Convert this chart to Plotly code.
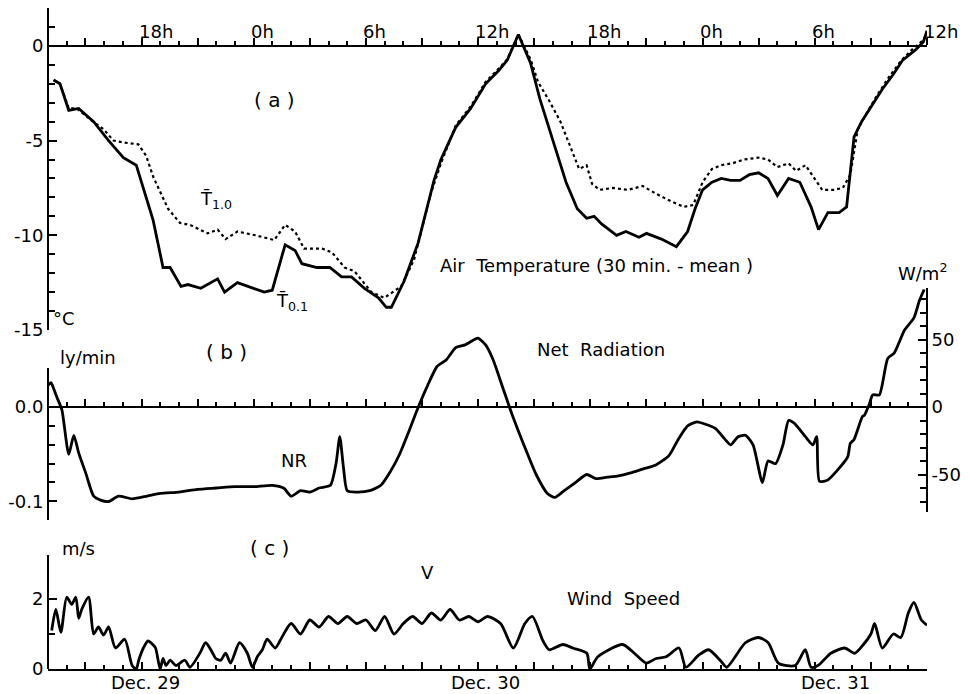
import plotly.graph_objects as go

# ---------------------------------------------------------------
# Time base: hours after 28 Dec 00:00
# ---------------------------------------------------------------
T_START, T_END = 13.0, 60.0

# (a) Air temperature, 30-min means (deg C) at 0.1 m and 1.0 m
t01_hours = [13.3, 13.64, 14.11, 14.64, 15.44, 16.24, 17.03, 17.72, 18.62, 19.15,
             19.53, 20.11, 20.48, 21.17, 22.07, 22.44, 23.13, 24.56, 24.99, 25.68,
             26.21, 26.58, 27.38, 28.07, 28.70, 29.23, 29.92, 30.67, 31.09, 31.36,
             32.05, 32.79, 33.64, 34.01, 34.8, 35.6, 36.4, 37.1, 37.56, 38.15,
             38.8, 39.3, 40.0, 40.7, 41.3, 41.8, 42.2, 42.6, 43.0, 43.4,
             43.9, 44.6, 45.0, 45.8, 46.6, 47.2, 47.6, 48.0, 48.5, 49.0,
             49.5, 50.0, 50.5, 51.0, 51.5, 52.0, 52.6, 53.2, 53.8, 54.2,
             54.7, 55.3, 55.7, 56.1, 56.5, 57.0, 57.6, 58.2, 58.7, 59.4, 59.8, 60.0]
t01_values = [-1.8, -2.0, -3.4, -3.3, -4.0, -5.0, -5.9, -6.3, -9.2, -11.7,
              -11.7, -12.7, -12.6, -12.8, -12.3, -13.0, -12.5, -13.0, -12.9, -10.5,
              -10.8, -11.5, -11.7, -11.7, -12.2, -12.2, -12.8, -13.3, -13.8, -13.8,
              -12.4, -10.4, -7.1, -6.0, -4.3, -3.3, -2.0, -1.3, -0.75, 0.6,
              -0.9, -2.8, -5.0, -7.2, -8.6, -9.1, -9.0, -9.4, -9.7, -10.0,
              -9.8, -10.1, -9.9, -10.2, -10.6, -9.8, -8.6, -7.6, -7.2, -7.0,
              -7.1, -7.1, -6.8, -6.7, -7.0, -7.9, -7.0, -7.2, -8.5, -9.7,
              -8.8, -8.8, -8.5, -4.8, -4.0, -3.2, -2.3, -1.5, -0.75, -0.2, 0.2, 0.8]

t10_hours = [13.3, 13.64, 14.11, 14.54, 15.28, 15.97, 16.50, 17.03, 17.83, 18.25,
             18.62, 19.42, 20.06, 20.59, 21.54, 22.07, 22.50, 23.13, 24.09, 25.10,
             25.68, 26.21, 26.69, 27.65, 28.18, 28.86, 29.39, 30.29, 30.98, 31.88,
             32.57, 33.47, 34.01, 34.8, 35.6, 36.4, 37.1, 37.56, 38.15,
             38.8, 39.2, 39.8, 40.4, 41.0, 41.4, 41.8, 42.1, 42.5, 43.2,
             44.0, 44.8, 45.5, 46.3, 47.0, 47.5, 48.0, 48.5, 49.0, 49.6,
             50.2, 51.0, 51.5, 52.0, 52.6, 53.0, 53.5, 54.0, 54.4, 55.0,
             55.5, 55.9, 56.3, 56.8, 57.4, 58.0, 58.6, 59.2, 59.8, 60.0]
t10_values = [-1.8, -2.0, -3.3, -3.3, -3.9, -4.4, -5.0, -5.1, -5.2, -5.8,
              -6.9, -8.6, -9.35, -9.45, -9.9, -9.7, -10.2, -9.8, -10.0, -10.25,
              -9.45, -9.8, -10.7, -10.7, -10.9, -11.7, -11.9, -13.0, -13.3, -12.7,
              -11.3, -7.8, -6.2, -4.2, -3.2, -1.9, -1.2, -0.7, 0.6,
              -0.7, -1.9, -2.9, -4.0, -5.5, -6.5, -6.3, -7.3, -7.6, -7.5,
              -7.6, -7.4, -7.8, -8.2, -8.5, -8.4, -7.2, -6.5, -6.3, -6.2,
              -6.0, -5.9, -6.0, -6.4, -6.2, -6.6, -6.3, -7.0, -7.6, -7.6,
              -7.5, -6.8, -4.4, -3.5, -2.5, -1.6, -0.8, -0.2, 0.3, 0.7]

# (b) Net radiation (W/m2)
nr_hours = [13.0, 13.16, 13.32, 13.48, 13.74, 14.11, 14.38, 14.64, 15.02, 15.44,
            15.81, 16.24, 16.77, 17.5, 18.3, 19.0, 20.0, 21.0, 22.0, 23.0,
            24.0, 25.0, 25.6, 26.0, 26.5, 27.0, 27.5, 28.1, 28.4, 28.6,
            28.8, 29.0, 29.5, 30.2, 30.8, 31.3, 31.8, 32.3, 32.8, 33.3,
            33.8, 34.3, 34.8, 35.3, 35.8, 36.0, 36.4, 36.8, 37.3, 37.8,
            38.5, 39.1, 39.7, 40.1, 40.6, 41.2, 41.8, 42.3, 42.9, 43.5,
            44.1, 44.8, 45.5, 46.2, 46.7, 47.2, 47.7, 48.2, 48.7, 49.2,
            49.5, 49.9, 50.3, 50.7, 51.2, 51.5, 51.9, 52.3, 52.6, 52.9,
            53.5, 53.9, 54.1, 54.25, 54.7, 55.2, 55.76, 55.9, 56.1, 56.55,
            56.66, 56.9, 57.1, 57.45, 57.9, 58.25, 58.8, 59.3, 59.6, 59.85]
nr_values = [16, 18, 13, 7, -2, -35, -21, -34, -49, -66,
             -69, -70, -66, -68, -66, -64, -63, -61, -60, -59,
             -59, -58, -60, -66, -62, -63, -60, -58, -42, -22,
             -45, -62, -63, -62, -58, -48, -35, -18, 0, 16,
             30, 35, 44, 46, 50, 51, 46, 35, 15, -5,
             -30, -50, -64, -67, -62, -56, -50, -53, -52, -51,
             -49, -46, -43, -36, -24, -14, -11, -13, -16, -24,
             -28, -22, -21, -28, -56, -40, -42, -28, -10, -12,
             -22, -28, -22, -55, -54, -47, -37, -27, -24, -7,
             -6, 1.5, 9, 9, 36, 40, 57, 66, 79, 87]

# (c) Wind speed (m/s)
v_hours = [13.2, 13.42, 13.69, 14.0, 14.27, 14.49, 14.64, 14.8, 15.17, 15.44,
           15.7, 15.97, 16.24, 16.61, 17.1, 17.5, 17.72, 17.85, 18.1, 18.35,
           18.6, 18.75, 19.0, 19.15, 19.31, 19.53, 19.84, 20.32, 20.59, 21.12,
           21.43, 21.81, 21.97, 22.23, 22.5, 22.76, 23.24, 23.66, 23.93, 24.19,
           24.46, 24.72, 25.15, 25.5, 26.0, 26.5, 27.0, 27.5, 28.0, 28.5,
           29.0, 29.5, 30.0, 30.5, 31.0, 31.5, 32.0, 32.5, 33.0, 33.5,
           34.0, 34.5, 35.0, 35.5, 36.0, 36.5, 37.2, 37.88, 38.5, 38.9,
           39.47, 39.8, 40.53, 41.06, 41.81, 41.97, 42.4, 43.72, 44.35, 44.99,
           45.52, 46.05, 46.74, 47.11, 47.8, 48.33, 49.02, 49.29, 50.29, 50.98,
           51.51, 52.05, 52.95, 53.49, 53.8, 54.17, 54.86, 55.6, 56.13, 56.6,
           57.0, 57.2, 57.61, 58.2, 58.6, 59.0, 59.3, 59.7, 60.0]
v_values = [1.1, 1.7, 1.05, 2.05, 1.85, 2.05, 1.45, 1.7, 2.05, 1.0,
            1.2, 0.97, 1.2, 0.6, 0.85, 0.1, 0.0, 0.25, 0.6, 0.8,
            0.7, 0.6, 0.0, 0.3, 0.1, 0.25, 0.1, 0.25, 0.05, 0.45,
            0.75, 0.45, 0.3, 0.25, 0.45, 0.17, 0.75, 0.45, 0.05, 0.35,
            0.55, 0.85, 0.6, 0.9, 1.3, 1.0, 1.4, 1.2, 1.5, 1.3,
            1.5, 1.3, 1.4, 1.1, 1.5, 1.0, 1.3, 1.5, 1.3, 1.6,
            1.4, 1.7, 1.4, 1.5, 1.35, 1.5, 1.3, 0.6, 1.3, 1.5,
            0.8, 0.55, 0.7, 0.6, 0.45, 0.0, 0.35, 0.7, 0.45, 0.17,
            0.3, 0.35, 0.6, 0.05, 0.4, 0.55, 0.2, 0.05, 0.75, 0.9,
            0.75, 0.17, 0.1, 0.55, 0.05, 0.1, 0.45, 0.6, 0.45, 0.7,
            1.0, 1.3, 0.6, 1.0, 0.9, 1.6, 1.9, 1.4, 1.25]

# Tick labels
clock_ticks = [18, 24, 30, 36, 42, 48, 54, 60]
clock_labels = ["18h", "0h", "6h", "12h", "18h", "0h", "6h", "12h"]
date_ticks = [18.2, 36.4, 55.1]
date_labels = ["Dec. 29", "Dec. 30", "Dec. 31"]
temp_ticks = [-15, -10, -5, 0]
wm_ticks = [-50, 0, 50]
ly_ticks = [-0.1, 0.0]
ly_labels = ["-0.1", "0.0"]
v_ticks = [0, 2]

LY_TO_WM2 = 697.8  # 1 ly/min in W/m2

# ---------------------------------------------------------------
# Page geometry (pixels)
# ---------------------------------------------------------------
W, H = 969, 694
ML, MR, MT, MB = 44, 39, 8, 25
PW, PH = W - ML - MR, H - MT - MB


def fy(p):
    """pixel row -> paper y"""
    return (H - MB - p) / PH


def fx(p):
    """pixel column -> paper x"""
    return (p - ML) / PW


FONT = "DejaVu Sans"
INK = "black"

fig = go.Figure()

fig.add_trace(go.Scatter(x=t10_hours, y=t10_values, xaxis="x2", yaxis="y2", mode="lines",
                         line=dict(color=INK, width=2.2, dash="3px,3px"),
                         hoverinfo="skip", showlegend=False))
fig.add_trace(go.Scatter(x=t01_hours, y=t01_values, xaxis="x2", yaxis="y2", mode="lines",
                         line=dict(color=INK, width=2.8),
                         hoverinfo="skip", showlegend=False))
fig.add_trace(go.Scatter(x=nr_hours, y=nr_values, xaxis="x3", yaxis="y3", mode="lines",
                         line=dict(color=INK, width=2.8, shape="spline", smoothing=0.6),
                         hoverinfo="skip", showlegend=False))
# ly/min companion axis (carries no visible data)
fig.add_trace(go.Scatter(x=[T_START], y=[0], xaxis="x3", yaxis="y4", mode="markers",
                         marker=dict(opacity=0), hoverinfo="skip", showlegend=False))
fig.add_trace(go.Scatter(x=v_hours, y=v_values, xaxis="x", yaxis="y", mode="lines",
                         line=dict(color=INK, width=2.8, shape="spline", smoothing=0.7),
                         hoverinfo="skip", showlegend=False))


def time_axis(ticks, **kw):
    d = dict(range=[T_START, T_END], domain=[0, 1], showgrid=False, zeroline=False,
             showline=True, linecolor=INK, linewidth=2,
             tickmode="linear", tick0=15, dtick=3, ticks=ticks, ticklen=7,
             tickwidth=1.6, tickcolor=INK, showticklabels=False,
             minor=dict(tickmode="linear", tick0=13, dtick=1, ticks=ticks,
                        ticklen=4, tickwidth=1.6, tickcolor=INK))
    d.update(kw)
    return d


def value_axis(rng, dom, vals, texts, minor_vals, **kw):
    d = dict(range=rng, domain=dom, showgrid=False, zeroline=False,
             showline=True, linecolor=INK, linewidth=2,
             tickmode="array", tickvals=vals, ticktext=texts,
             ticks="inside", ticklen=8, tickwidth=1.6, tickcolor=INK,
             tickfont=dict(family=FONT, size=18, color=INK),
             minor=dict(tickmode="array", tickvals=minor_vals, ticks="inside",
                        ticklen=6, tickwidth=1.6, tickcolor=INK),
             anchor="free", position=0)
    d.update(kw)
    return d


px_per_wm = 1.35
wm_lo, wm_hi = (407 - 512) / px_per_wm, (407 - 288) / px_per_wm
px_per_ly = px_per_wm * LY_TO_WM2
ly_lo, ly_hi = -(520 - 407) / px_per_ly, (407 - 368) / px_per_ly
v_top = (H - MB - 555) / 35.0

temp_minor = [v for v in range(-14, 3) if v % 5 != 0]
wm_minor = [v for v in range(-70, 90, 10) if v % 50 != 0]
ly_minor = [-0.08, -0.06, -0.04, -0.02, ly_hi]
v_minor = [1, v_top]

fig.update_layout(
    width=W, height=H,
    margin=dict(l=ML, r=MR, t=MT, b=MB, pad=0),
    paper_bgcolor="white", plot_bgcolor="rgba(0,0,0,0)",
    font=dict(family=FONT, size=18, color=INK),
    showlegend=False,
    xaxis=time_axis("inside", anchor="y"),
    xaxis2=time_axis("outside", anchor="free", position=fy(46), side="top"),
    xaxis3=time_axis("outside", anchor="free", position=fy(407), side="top"),
    yaxis=value_axis([0, v_top], [0, fy(555)], v_ticks, [str(v) for v in v_ticks], v_minor),
    yaxis2=value_axis([-15, 2], [fy(330), 1.0], temp_ticks, [str(v) for v in temp_ticks],
                      temp_minor),
    yaxis3=value_axis([wm_lo, wm_hi], [fy(512), fy(288)], wm_ticks,
                      [str(v) for v in wm_ticks], wm_minor, side="right", position=1),
    yaxis4=value_axis([ly_lo, ly_hi], [fy(520), fy(368)], ly_ticks, ly_labels, ly_minor),
)

ann = []
# clock labels above the temperature axis
for t, s in zip(clock_ticks, clock_labels):
    ann.append(dict(x=t, xref="x2", y=fy(46), yref="paper", text=s, showarrow=False,
                    xanchor="left", yanchor="bottom", xshift=-5, yshift=2,
                    font=dict(family=FONT, size=18, color=INK)))
# date labels under the wind axis
for t, s in zip(date_ticks, date_labels):
    ann.append(dict(x=t, xref="x", y=0, yref="paper", text=s, showarrow=False,
                    xanchor="center", yanchor="top", yshift=-1,
                    font=dict(family=FONT, size=18, color=INK)))

# free text: (text, x pixel, y pixel, size, anchor)
labels = [
    ("( a )", 272, 100, 20, "center"),
    ("T\u0304<sub>1.0</sub>", 213, 200, 18, "center"),
    ("T\u0304<sub>0.1</sub>", 290, 302, 18, "center"),
    ("Air  Temperature (30 min. - mean )", 437, 265, 18, "left"),
    ("°C", 60, 318, 18, "center"),
    ("ly/min", 84, 357, 18, "center"),
    ("( b )", 224, 352, 20, "center"),
    ("Net  Radiation", 535, 350, 18, "left"),
    ("W/m<sup>2</sup>", 925, 272, 18, "center"),
    ("NR", 292, 460, 18, "center"),
    ("m/s", 75, 548, 18, "center"),
    ("( c )", 267, 548, 20, "center"),
    ("V", 427, 572, 18, "center"),
    ("Wind  Speed", 565, 598, 18, "left"),
]
for s, x, y, size, anchor in labels:
    ann.append(dict(x=fx(x), xref="paper", y=fy(y), yref="paper", text=s,
                    showarrow=False, xanchor=anchor, yanchor="middle",
                    font=dict(family=FONT, size=size, color=INK)))

fig.update_layout(annotations=ann)

fig.write_html("out.html")
